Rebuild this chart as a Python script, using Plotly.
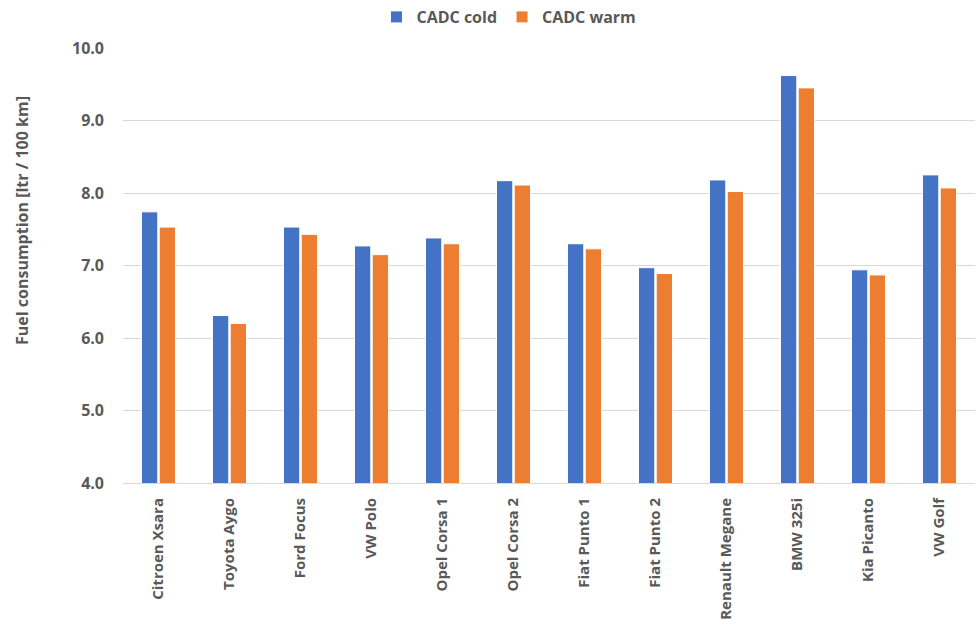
import plotly.graph_objects as go

cars = ["Citroen Xsara", "Toyota Aygo", "Ford Focus", "VW Polo", "Opel Corsa 1",
        "Opel Corsa 2", "Fiat Punto 1", "Fiat Punto 2", "Renault Megane", "BMW 325i",
        "Kia Picanto", "VW Golf"]
cadc_cold = [7.74, 6.31, 7.53, 7.27, 7.38, 8.17, 7.30, 6.97, 8.18, 9.62, 6.94, 8.25]
cadc_warm = [7.53, 6.20, 7.43, 7.15, 7.30, 8.11, 7.23, 6.89, 8.02, 9.45, 6.87, 8.07]
y_ticks = [4, 5, 6, 7, 8, 9, 10]

FONT = "Open Sans"
TXT = "#595959"

W, H = 976, 630
L, R, T, B = 123, 975, 48, 483  # plot area in window pixels

fig = go.Figure()
fig.add_trace(go.Bar(name="CADC cold", x=cars, y=cadc_cold,
                     marker=dict(color="#4472C4", line=dict(color="white", width=1))))
fig.add_trace(go.Bar(name="CADC warm", x=cars, y=cadc_warm,
                     marker=dict(color="#ED7D31", line=dict(color="white", width=1))))

fig.update_layout(
    width=W, height=H,
    margin=dict(l=L, r=W - R, t=T, b=H - B, autoexpand=False),
    paper_bgcolor="white", plot_bgcolor="white",
    barmode="group", bargap=0.5, bargroupgap=0.08,
    font=dict(family=FONT, color=TXT, size=15, weight=700),
    showlegend=True,
    legend=dict(orientation="h", x=0.453, xanchor="center",
                yref="container", y=1 - 17 / H, yanchor="middle",
                font=dict(family=FONT, size=16, color=TXT, weight=700),
                itemwidth=30, traceorder="normal"),
    xaxis=dict(tickangle=-90, showgrid=False, showline=True, linecolor="#d9d9d9",
               linewidth=1, ticks="", ticklabelstandoff=8,
               tickfont=dict(family=FONT, size=15, color=TXT, weight=700)),
    yaxis=dict(range=[4, 10], tickvals=y_ticks, tickformat=".1f",
               showgrid=True, gridcolor="#d9d9d9", gridwidth=1,
               zeroline=False, showline=False, ticks="", ticklabelstandoff=18,
               tickfont=dict(family=FONT, size=16, color=TXT, weight=700)),
    annotations=[dict(text="Fuel consumption [ltr / 100 km]", textangle=-90,
                      xref="paper", yref="paper",
                      x=(22 - L) / (R - L), y=(B - 221) / (B - T),
                      xanchor="center", yanchor="middle", showarrow=False,
                      font=dict(family=FONT, size=16, color=TXT, weight=700))],
)

fig.write_html("out.html", config={"displayModeBar": False},
               post_script="document.body.style.margin='0';")
